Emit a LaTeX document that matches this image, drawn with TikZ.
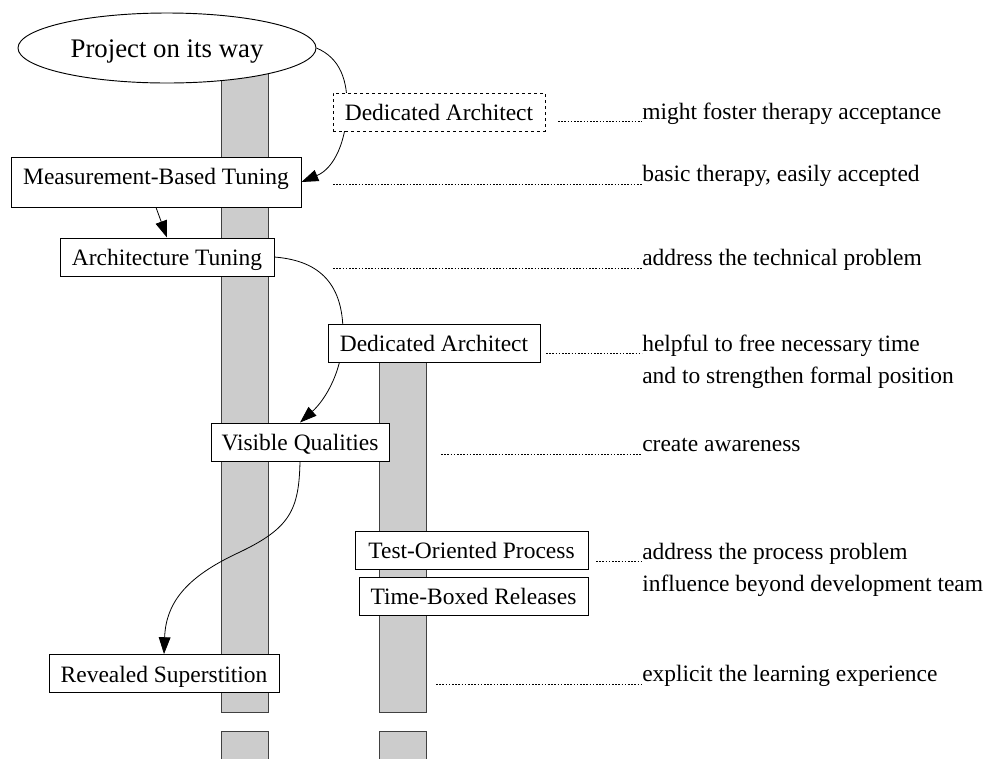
\documentclass[tikz,border=0pt]{standalone}
\usepackage{fontspec}
\setmainfont{Liberation Serif}
\usetikzlibrary{arrows.meta,shapes.geometric,backgrounds,calc}
\begin{document}
\begin{tikzpicture}[x=0.75pt,y=-0.75pt,
  box/.style={draw=black, line width=0.7pt, fill=white, inner sep=0pt,
    minimum height=28.5pt, text height=14.5pt, text depth=1.5pt,
    font=\fontsize{17.6pt}{21pt}\selectfont},
  dbox/.style={box, dash pattern=on 2.5pt off 2pt},
  note/.style={anchor=base west, inner sep=0pt, font=\fontsize{17.6pt}{21pt}\selectfont},
  bar/.style={fill=gray!40, draw=black!75, line width=0.7pt},
  dotl/.style={line width=0.6pt, dash pattern=on 1.2pt off 1.2pt},
  arr/.style={line width=0.6pt, -{Triangle[length=12.6pt,width=8.8pt]}},
]
\useasboundingbox (0,0) rectangle (987,758);

% main nodes
\node[ellipse, draw=black, line width=0.7pt, fill=white, minimum width=223.5pt,
  minimum height=52.5pt, inner sep=0pt, text height=14pt, text depth=0.2pt,
  font=\fontsize{20.1pt}{24pt}\selectfont]
  (pow) at (167,48) {Project on its way};
\node[dbox, minimum width=159pt] (da1) at (439,112) {Dedicated Architect};
\node[box, minimum width=217.5pt, minimum height=37.5pt, text height=14.5pt, text depth=10.5pt] (mbt) at (156,182) {Measurement-Based Tuning};
\node[box, minimum width=160.5pt] (at) at (167,257) {Architecture Tuning};
\node[box, minimum width=159pt] (da2) at (434,343) {Dedicated Architect};
\node[box, minimum width=133.5pt] (vq) at (300,442) {Visible Qualities};
\node[box, minimum width=174.75pt] (top) at (471.5,550) {Test-Oriented Process};
\node[box, minimum width=171.75pt] (tbr) at (473.5,596) {Time-Boxed Releases};
\node[box, minimum width=172.5pt] (rs) at (164,673.5) {Revealed Superstition};

% notes
\node[note] (n1) at (642,119) {might foster therapy acceptance};
\node[note] (n2) at (642,181.5) {basic therapy, easily accepted};
\node[note] (n3) at (642,265.5) {address the technical problem};
\node[note] (n4) at (642,351) {helpful to free necessary time};
\node[note] (n4b) at (642,383.5) {and to strengthen formal position};
\node[note] (n5) at (642,451.5) {create awareness};
\node[note] (n6) at (642,559) {address the process problem};
\node[note] (n6b) at (642,591.5) {influence beyond development team};
\node[note] (n7) at (642,681.5) {explicit the learning experience};

% dotted leaders
\coordinate (s1) at (558,121);
\coordinate (s2) at (333,184);
\coordinate (s3) at (333,268);
\coordinate (s4) at (546,353);
\coordinate (s5) at (441,454);
\coordinate (s6) at (596,561);
\coordinate (s7) at (436,684);
\draw[dotl] (s1) -- (s1 -| n1.west);
\draw[dotl] (s2) -- (s2 -| n2.west);
\draw[dotl] (s3) -- (s3 -| n3.west);
\draw[dotl] (s4) -- (s4 -| n4.west);
\draw[dotl] (s5) -- (s5 -| n5.west);
\draw[dotl] (s6) -- (s6 -| n6.west);
\draw[dotl] (s7) -- (s7 -| n7.west);

\begin{scope}[on background layer]
  \draw[bar] (221,50) rectangle (268,712);
  \draw[bar] (221,731) rectangle (268,780);
  \draw[bar] (379,343) rectangle (426,712);
  \draw[bar] (379,731) rectangle (426,780);
  \draw[arr] (pow.east) .. controls (340,58) and (348,80) .. (347,110)
             .. controls (346,140) and (335,168) .. (mbt.east);
  \draw[arr] (mbt.south) -- (at.north);
  \draw[arr] (at.east) .. controls (310,260) and (342,275) .. (343,330)
             .. controls (344,370) and (325,400) .. (vq.north);
  \draw[arr] (vq.south) .. controls (299,510) and (290,528) .. (240,552)
             .. controls (190,575) and (166,600) .. (rs.north);
\end{scope}
\end{tikzpicture}
\end{document}
